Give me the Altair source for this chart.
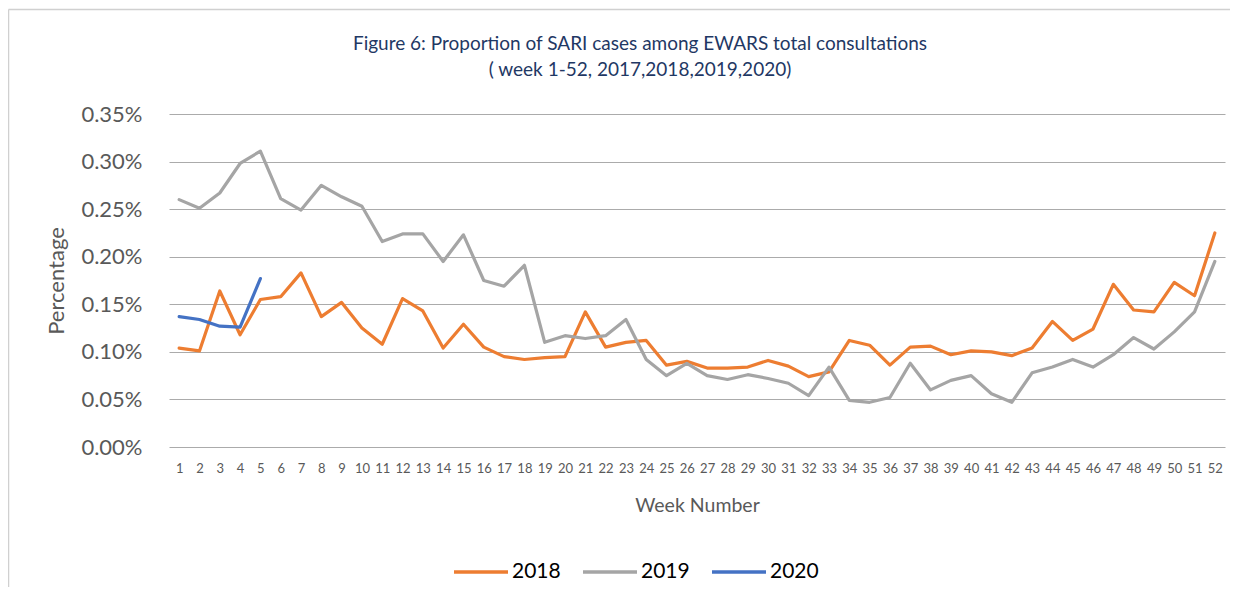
import altair as alt
import pandas as pd

weeks = list(range(1, 53))
years = ["2018", "2019", "2020"]
colors = ["#ED7D31", "#A5A5A5", "#4472C4"]

y2018 = [0.104, 0.101, 0.164, 0.118, 0.155, 0.158, 0.183, 0.137, 0.152, 0.125,
         0.108, 0.156, 0.143, 0.104, 0.129, 0.105, 0.095, 0.092, 0.094, 0.095,
         0.142, 0.105, 0.110, 0.112, 0.086, 0.090, 0.083, 0.083, 0.084, 0.091,
         0.085, 0.074, 0.079, 0.112, 0.107, 0.086, 0.105, 0.106, 0.097, 0.101,
         0.100, 0.096, 0.104, 0.132, 0.112, 0.124, 0.171, 0.144, 0.142, 0.173,
         0.159, 0.225]
y2019 = [0.260, 0.251, 0.267, 0.298, 0.311, 0.261, 0.249, 0.275, 0.263, 0.253,
         0.216, 0.224, 0.224, 0.195, 0.223, 0.175, 0.169, 0.191, 0.110, 0.117,
         0.114, 0.117, 0.134, 0.092, 0.075, 0.088, 0.075, 0.071, 0.076, 0.072,
         0.067, 0.054, 0.084, 0.049, 0.047, 0.052, 0.088, 0.060, 0.070, 0.075,
         0.056, 0.047, 0.078, 0.084, 0.092, 0.084, 0.097, 0.115, 0.103, 0.121,
         0.142, 0.195]
weeks2020 = [1, 2, 3, 4, 5]
y2020 = [0.137, 0.134, 0.127, 0.126, 0.177]

y_ticks = [0, 0.05, 0.10, 0.15, 0.20, 0.25, 0.30, 0.35]

title_lines = ["Figure 6: Proportion of SARI cases among EWARS total consultations",
               "( week 1-52, 2017,2018,2019,2020)"]

rows = []
for w, v in zip(weeks, y2018):
    rows.append({"week": w, "value": v, "year": "2018"})
for w, v in zip(weeks, y2019):
    rows.append({"week": w, "value": v, "year": "2019"})
for w, v in zip(weeks2020, y2020):
    rows.append({"week": w, "value": v, "year": "2020"})
df = pd.DataFrame(rows)

FONT = "Lato"

lines = alt.Chart(df).mark_line(strokeWidth=3.2, strokeJoin="round", strokeCap="round").encode(
    x=alt.X("week:O",
            scale=alt.Scale(type="point", domain=weeks, padding=0.5),
            axis=alt.Axis(title="Week Number", labelAngle=0, labelFontSize=13,
                          labelColor="#595959", labelPadding=15, labelOverlap=False,
                          ticks=False, domain=False, grid=False,
                          titleFontSize=19.5, titleFontWeight="normal", titleColor="#595959",
                          titlePadding=21)),
    y=alt.Y("value:Q",
            scale=alt.Scale(domain=[0, 0.35], nice=False, zero=True),
            axis=alt.Axis(values=y_ticks,
                          labelExpr="format(datum.value, '.2f') + '%'",
                          labelFontSize=22, labelColor="#595959", labelPadding=27,
                          ticks=False, domain=False,
                          gridColor="#ababab", gridWidth=1.2,
                          title="Percentage", titleFontSize=22, titleFontWeight="normal",
                          titleColor="#595959", titlePadding=12)),
    color=alt.Color("year:N",
                    scale=alt.Scale(domain=years, range=colors),
                    legend=alt.Legend(title=None, orient="none", legendX=283, legendY=429,
                                      direction="horizontal", symbolType="stroke",
                                      symbolSize=2916, symbolStrokeWidth=3.5,
                                      labelFontSize=21, labelColor="#000000",
                                      labelOffset=2, columnPadding=15, padding=0)),
    order=alt.Order("year:N")
)

frame_df = pd.DataFrame({"a": [0]})
border_top = alt.Chart(frame_df).mark_rule(stroke="#d0d0d0", strokeWidth=1.5).encode(
    x=alt.value(-160.5), x2=alt.value(1100), y=alt.value(-104.5)
)
border_left = alt.Chart(frame_df).mark_rule(stroke="#d0d0d0", strokeWidth=1.5).encode(
    x=alt.value(-160.5), y=alt.value(-104.5), y2=alt.value(1000)
)

chart = alt.layer(border_top, border_left, lines).properties(
    width=1056,
    height=333,
    autosize=alt.AutoSizeParams(type="none"),
    padding={"left": 161, "top": 106, "right": 5, "bottom": 140},
    title=alt.TitleParams(text=title_lines, fontSize=19, color="#1F3864", font=FONT,
                          fontWeight="normal", anchor="middle", frame="group",
                          dx=-57, dy=71, offset=0, lineHeight=26)
).configure(font=FONT).configure_view(strokeWidth=0)

chart.save("out.html", embed_options={"renderer": "svg", "actions": False})
